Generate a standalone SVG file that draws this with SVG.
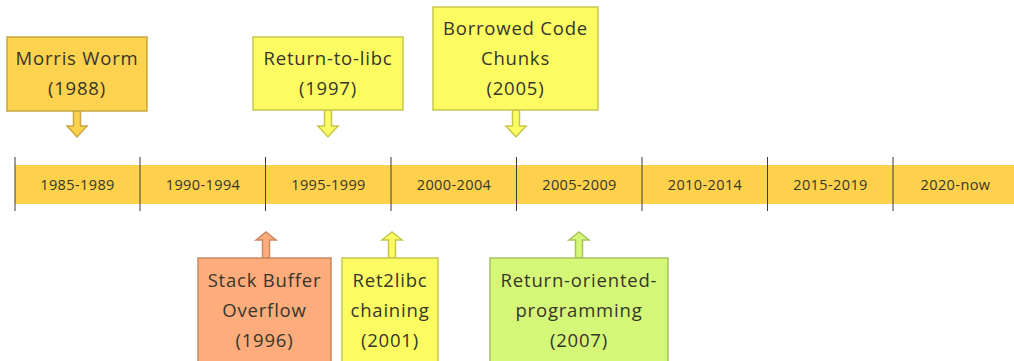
<svg xmlns="http://www.w3.org/2000/svg" width="1014" height="361" viewBox="0 0 1014 361">
<style>
text{font-family:"Open Sans","Liberation Sans",sans-serif;fill:#36362a;text-anchor:middle}
.ev{font-size:18.5px;letter-spacing:0.8px}
.tl{font-size:14.5px;letter-spacing:0.4px}
.orange{fill:#FDD24E;stroke:#C9A63F;stroke-width:1.5}
.yellow{fill:#FCFC62;stroke:#C6C64C;stroke-width:1.5}
.salmon{fill:#FEAC7C;stroke:#C98962;stroke-width:1.5}
.lime{fill:#D5F778;stroke:#A7C45C;stroke-width:1.5}
.tick{stroke:#3a3a3a;stroke-width:1}
</style>
<rect width="1014" height="361" fill="#ffffff"/>
<g id="timeline">
<rect x="15" y="165" width="999" height="39" fill="#FDD14B"/>
<text x="77.5" y="190" class="tl">1985-1989</text>
<text x="203" y="190" class="tl">1990-1994</text>
<text x="328.5" y="190" class="tl">1995-1999</text>
<text x="454" y="190" class="tl">2000-2004</text>
<text x="579.5" y="190" class="tl">2005-2009</text>
<text x="705" y="190" class="tl">2010-2014</text>
<text x="830.5" y="190" class="tl">2015-2019</text>
<text x="955.5" y="190" class="tl">2020-now</text>
</g>
<g id="connectors">
<line class="tick" x1="15" y1="157" x2="15" y2="211"/>
<line class="tick" x1="140" y1="157" x2="140" y2="211"/>
<line class="tick" x1="265.5" y1="157" x2="265.5" y2="211"/>
<line class="tick" x1="391" y1="157" x2="391" y2="211"/>
<line class="tick" x1="516.5" y1="157" x2="516.5" y2="211"/>
<line class="tick" x1="642" y1="157" x2="642" y2="211"/>
<line class="tick" x1="767.5" y1="157" x2="767.5" y2="211"/>
<line class="tick" x1="893" y1="157" x2="893" y2="211"/>
<path class="orange" d="M73.5,111 V126 H67 L77,137 L87,126 H80.5 V111 Z"/>
<path class="yellow" d="M324.5,110 V126 H318 L328,137 L338,126 H331.5 V110 Z"/>
<path class="yellow" d="M512.5,110 V126 H506 L516,137 L526,126 H519.5 V110 Z"/>
<path class="salmon" d="M262.5,258 V240 H256 L266,232 L276,240 H269.5 V258 Z"/>
<path class="yellow" d="M388.5,258 V240 H382 L392,232 L402,240 H395.5 V258 Z"/>
<path class="lime" d="M575.5,258 V240 H569 L579,232 L589,240 H582.5 V258 Z"/>
</g>
<g id="morris-worm">
<rect class="orange" x="7" y="37" width="140" height="74"/>
<text class="ev" x="77" y="65">Morris Worm</text>
<text class="ev" x="77" y="95">(1988)</text>
</g>
<g id="return-to-libc">
<rect class="yellow" x="253" y="37" width="150" height="73"/>
<text class="ev" x="328" y="65">Return-to-libc</text>
<text class="ev" x="328" y="95">(1997)</text>
</g>
<g id="borrowed-code-chunks">
<rect class="yellow" x="433" y="7" width="165" height="103"/>
<text class="ev" x="515.5" y="35">Borrowed Code</text>
<text class="ev" x="515.5" y="65">Chunks</text>
<text class="ev" x="515.5" y="95">(2005)</text>
</g>
<g id="stack-buffer-overflow">
<rect class="salmon" x="198" y="258" width="133" height="110"/>
<text class="ev" x="264.5" y="287">Stack Buffer</text>
<text class="ev" x="264.5" y="317">Overflow</text>
<text class="ev" x="264.5" y="347">(1996)</text>
</g>
<g id="ret2libc-chaining">
<rect class="yellow" x="342" y="258" width="96" height="110"/>
<text class="ev" x="390" y="287">Ret2libc</text>
<text class="ev" x="390" y="317">chaining</text>
<text class="ev" x="390" y="347">(2001)</text>
</g>
<g id="return-oriented-programming">
<rect class="lime" x="490" y="258" width="178" height="110"/>
<text class="ev" x="579" y="287">Return-oriented-</text>
<text class="ev" x="579" y="317">programming</text>
<text class="ev" x="579" y="347">(2007)</text>
</g>
</svg>
